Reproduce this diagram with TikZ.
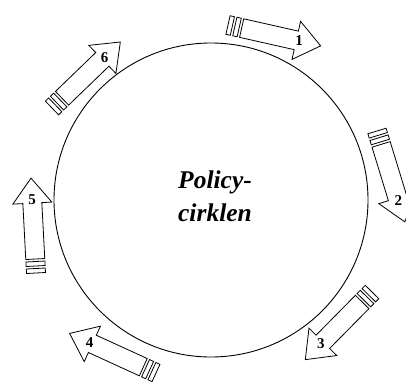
\documentclass[tikz,border=0pt]{standalone}
\usepackage{fontspec}
\setmainfont{Liberation Serif}
\tikzset{
	stripedarrow/.pic={
			\draw[line width=0.8pt] (0,-9.5) rectangle (4.5,9.5);
			\draw[line width=0.8pt] (7,-9.5) rectangle (11.5,9.5);
			\draw[line width=0.8pt, line join=miter] (14,-9.5) -- (70,-9.5) -- (70,-19.5) -- (95,0)
			-- (70,19.5) -- (70,9.5) -- (14,9.5) -- cycle;
			\node[font=\bfseries\fontsize{15}{15}\selectfont, inner sep=0] (-num) at (73,0) {\tikzpictext};
		}
}
\begin{document}
\begin{tikzpicture}[x=1pt, y=1pt]
	\useasboundingbox (0,0) rectangle (406,381);
	\node[circle, draw, line width=0.9pt, minimum size=314pt, inner sep=0] (cirkel) at (211,181) {};
	\node[font=\bfseries\itshape\fontsize{25.5}{33}\selectfont, align=center, inner sep=0]
	(titel) at (215,184.5) {Policy-\\cirklen};
	% pilene rundt om cirklen
	\pic[rotate=-12.7, pic text=1] (pil1) at (228,356) {stripedarrow};
	\pic[rotate=-73, pic text=2] (pil2) at (377,250) {stripedarrow};
	\pic[rotate=225.4, pic text=3] (pil3) at (372,89) {stripedarrow};
	\pic[rotate=155.4, pic text=4] (pil4) at (156,8) {stripedarrow};
	\pic[rotate=93, pic text=5] (pil5) at (36,108) {stripedarrow};
	\pic[rotate=44, pic text=6] (pil6) at (52,273) {stripedarrow};
\end{tikzpicture}
\end{document}
